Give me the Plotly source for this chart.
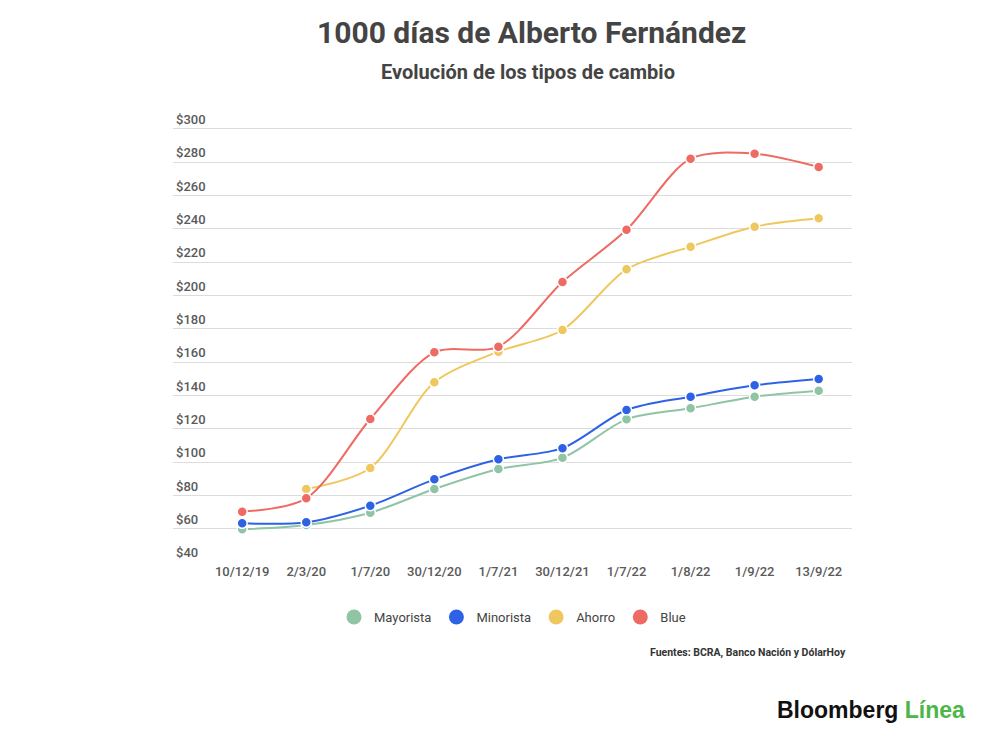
import plotly.graph_objects as go

fechas = ["10/12/19", "2/3/20", "1/7/20", "30/12/20", "1/7/21",
          "30/12/21", "1/7/22", "1/8/22", "1/9/22", "13/9/22"]

mayorista = [59.6, 62.2, 69.6, 83.8, 95.8, 102.5, 125.6, 132.2, 139.2, 142.8]
minorista = [63.2, 63.8, 73.8, 89.6, 101.6, 108.3, 131.2, 139.2, 146.0, 149.8]
ahorro = [None, 83.8, 96.4, 147.8, 166.2, 179.2, 215.6, 229.2, 241.2, 246.2]
blue = [70.2, 78.2, 125.8, 165.8, 169.2, 208.0, 239.3, 282.0, 285.0, 277.0]

series = [
    ("Mayorista", mayorista, "#8fc4a5"),
    ("Minorista", minorista, "#2e62e6"),
    ("Ahorro", ahorro, "#eec85f"),
    ("Blue", blue, "#ee6b64"),
]

y_ticks = list(range(40, 301, 20))
y_labels = ["$" + str(v) for v in y_ticks]

fig = go.Figure()

for name, vals, color in series:
    fig.add_trace(go.Scatter(
        x=fechas, y=vals, name=name, mode="lines+markers",
        line=dict(color=color, width=2, shape="spline", smoothing=0.85),
        marker=dict(color=color, size=10, line=dict(color="white", width=1.5)),
        showlegend=False, hoverinfo="x+y",
    ))

# entradas de leyenda: solo circulos
for name, vals, color in series:
    fig.add_trace(go.Scatter(
        x=[None], y=[None], name=name, mode="markers",
        marker=dict(color=color, size=15),
    ))

font_main = "Roboto, 'Noto Sans', sans-serif"

# la pagina tiene 8px de margen en el body
fig.update_layout(
    width=984, height=725,
    margin=dict(l=165, r=140, t=104, b=171),
    paper_bgcolor="white", plot_bgcolor="white",
    font=dict(family=font_main, color="#555555", size=13),
    xaxis=dict(
        type="category", range=[-1.08, 9.52], showgrid=False,
        showline=False, ticks="", fixedrange=True,
        tickfont=dict(size=13, color="#5a5a5a", weight=500),
    ),
    yaxis=dict(
        range=[40, 310], tickvals=y_ticks, ticktext=y_labels,
        ticklabelposition="inside top", showgrid=True,
        gridcolor="#dcdcdc", gridwidth=1, zeroline=False, ticks="",
        tickfont=dict(size=13, color="#5a5a5a", weight=500),
    ),
    legend=dict(
        orientation="h", x=0.5, xanchor="center", y=-0.1222,
        yanchor="middle", font=dict(size=13, color="#444444"),
        itemclick=False,
    ),
    annotations=[
        dict(text="<b>1000 días de Alberto Fernández</b>", xref="paper",
             yref="paper", x=0.5287, y=1.1756, xanchor="center",
             yanchor="middle", showarrow=False,
             font=dict(size=30, color="#444444")),
        dict(text="<b>Evolución de los tipos de cambio</b>", xref="paper",
             yref="paper", x=0.523, y=1.0889, xanchor="center",
             yanchor="middle", showarrow=False,
             font=dict(size=20, color="#444444")),
        dict(text="<b>Fuentes: BCRA, Banco Nación y DólarHoy</b>",
             xref="paper", yref="paper", x=0.994, y=-0.2,
             xanchor="right", yanchor="middle", showarrow=False,
             font=dict(size=10.5, color="#333333")),
        dict(text="<b>Bloomberg</b> <b><span style='color:#4cb648'>Línea</span></b>",
             xref="paper", yref="paper", x=1.169, y=-0.3289,
             xanchor="right", yanchor="middle", showarrow=False,
             font=dict(family="'Liberation Sans', Arial, sans-serif",
                       size=23, color="#111111")),
    ],
)

fig.write_html("out.html")
